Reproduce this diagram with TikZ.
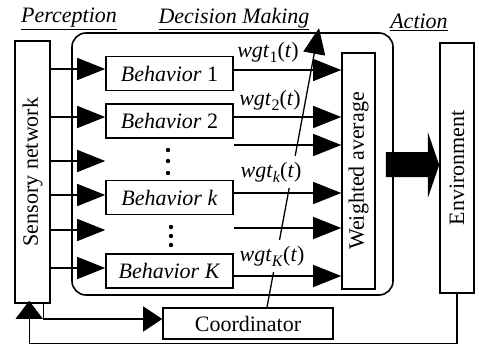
\documentclass[tikz,border=0pt]{standalone}
\usepackage{fontspec}
\setmainfont{Liberation Serif}
\usetikzlibrary{arrows.meta,calc}
\newcommand{\wgtlab}[1]{\textit{wgt}\raisebox{-5pt}{\fontsize{16}{16}\selectfont #1}(\textit{t})}
\begin{document}
\begin{tikzpicture}[x=1pt,y=-1pt,
  font=\fontsize{22}{26}\selectfont,
  box/.style={draw, line width=1.6pt, fill=white, inner sep=0pt},
  conn/.style={line width=1.3pt},
  bigtip/.style={-{Triangle[length=28pt,width=22pt]}},
  lab/.style={fill=white, inner xsep=1pt, inner ysep=6pt}]
\useasboundingbox (0,0) rectangle (479,345);
% titles
\node (tp) at (69,19) {\underline{\textit{Perception}}};
\node (td) at (234,19) {\underline{\textit{Decision Making}}};
\node (ta) at (419,22) {\underline{\textit{Action}}};
% decision making frame
\node[draw, line width=1.6pt, rounded corners=14pt, minimum width=321pt, minimum height=262pt, inner sep=0pt] (dm) at (232.5,164) {};
% boxes
\node[box, minimum width=35pt, minimum height=262pt] (sn) at (32.5,172) {\rotatebox{90}{Sensory network}};
\node[box, minimum width=127pt, minimum height=34pt] (b1) at (169.5,73.5) {\textit{Behavior} 1};
\node[box, minimum width=127pt, minimum height=34pt] (b2) at (169.5,121) {\textit{Behavior} 2};
\node[box, minimum width=127pt, minimum height=34pt] (bk) at (169.5,197.5) {\textit{Behavior k}};
\node[box, minimum width=127pt, minimum height=34pt] (bK) at (169.5,271) {\textit{Behavior K}};
\node[box, minimum width=33pt, minimum height=236pt] (wa) at (358.5,171) {\rotatebox{90}{Weighted average}};
\node[box, minimum width=34pt, minimum height=250pt] (env) at (457,168) {\rotatebox{90}{Environment}};
\node[box, minimum width=170pt, minimum height=31pt] (co) at (248,323.5) {Coordinator};
% dots
\foreach \y in {150,161,173} \fill (168,\y) circle (2.2pt);
\foreach \y in {227,236,245} \fill (171,\y) circle (2.2pt);
% input arrows
\draw[conn,bigtip] (sn.east |- 0,69) -- (b1.west |- 0,69);
\draw[conn,bigtip] (sn.east |- 0,117) -- (b2.west |- 0,117);
\draw[conn,bigtip] (sn.east |- 0,161) -- (b2.west |- 0,161);
\draw[conn,bigtip] (sn.east |- 0,195) -- (bk.west |- 0,195);
\draw[conn,bigtip] (sn.east |- 0,230) -- (bk.west |- 0,230);
\draw[conn,bigtip] (sn.east |- 0,268) -- (bK.west |- 0,268);
% output arrows
\draw[conn,bigtip] (b1.east |- 0,70) -- (wa.west |- 0,70);
\draw[conn,bigtip] (b2.east |- 0,117) -- (wa.west |- 0,117);
\draw[conn,bigtip] (b2.east |- 0,145) -- (wa.west |- 0,145);
\draw[conn,bigtip] (bk.east |- 0,193) -- (wa.west |- 0,193);
\draw[conn,bigtip] (bk.east |- 0,228) -- (wa.west |- 0,228);
\draw[conn,bigtip] (bK.east |- 0,276) -- (wa.west |- 0,276);
% coordinator weight line
\coordinate (cs) at ($(co.north)+(19,0)$);
\coordinate (up) at (319,28);
\draw[conn, -{Triangle[length=26pt,width=22pt]}] (cs) -- (up);
% weight labels
\node[lab] (w1) at (268,52) {\wgtlab{1}};
\node[lab] (w2) at (270,100) {\wgtlab{2}};
\node[lab] (wk) at (271,172) {\wgtlab{\textit{k}}};
\node[lab] (wK) at (272,256) {\wgtlab{\textit{K}}};
% big action arrow
\coordinate (ay) at (0,165);
\fill ($(wa.east |- ay)+(10,-13)$) -- ++(42,0) -- ++(0,-20) -- ($(env.west |- ay)$) -- ($(wa.east |- ay)+(52,33)$) -- ++(0,-21) -- ++(-42,0) -- cycle;
% feedback
\draw[conn, -{Triangle[length=18pt,width=27pt]}] (env.south) -- ++(0,50) -| ($(sn.south west)+(15,-3)$);
% coordinator input
\draw[conn, -{Triangle[length=19pt,width=25pt]}] ($(sn.south east)+(-7,0)$) |- ($(co.west)+(0,-4.5)$);
\end{tikzpicture}
\end{document}
